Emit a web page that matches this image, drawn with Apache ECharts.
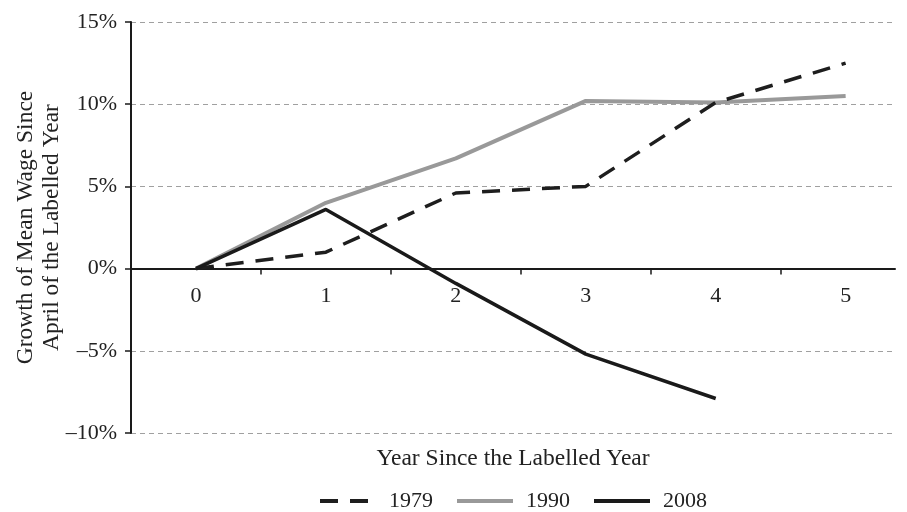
<!DOCTYPE html>
<html>
<head>
<meta charset="utf-8">
<script src="https://cdn.jsdelivr.net/npm/echarts@6/dist/echarts.min.js"></script>
<style>
  html, body { margin: 0; padding: 0; background: #fff; }
  #chart { width: 907px; height: 512px; }
</style>
</head>
<body>
<div id="chart"></div>
<script>
// years since the labelled year
var yearsSince = [0, 1, 2, 3, 4, 5];
// tick marks sit between the years
var tickMarks = [0.5, 1.5, 2.5, 3.5, 4.5];
var seriesNames = ['1979', '1990', '2008'];
// growth of mean wage, %
var wage1979 = [0, 1.0, 4.6, 5.0, 10.1, 12.5];
var wage1990 = [0, 4.0, 6.7, 10.2, 10.1, 10.5];
var wage2008 = [0, 3.6, -0.9, -5.2, -7.9];
var yMin = -10, yMax = 15, yStep = 5;

var FONT = 'Liberation Serif';
var GRID = { left: 131, right: 12, top: 22, bottom: 79 };

function pairs(vals) {
    return vals.map(function (v, i) { return [yearsSince[i], v]; });
}

// the x axis sits on the 0% line; v6 keeps labels at the grid edge with onZero,
// so shift the whole axis up instead
var plotH = 512 - GRID.top - GRID.bottom;
var zeroShift = -(0 - yMin) / (yMax - yMin) * plotH;

var myChart = echarts.init(document.getElementById('chart'));

var option = {
    backgroundColor: '#fff',
    animation: false,
    grid: { left: GRID.left, right: GRID.right, top: GRID.top, bottom: GRID.bottom, containLabel: false, outerBoundsMode: 'none' },
    legend: {
        data: seriesNames,
        top: 490,
        left: 318,
        padding: 0,
        itemWidth: 56,
        itemHeight: 14,
        itemGap: 22,
        textStyle: { fontFamily: FONT, fontSize: 22, color: '#222', padding: [0, 0, 0, 8] },
        itemStyle: { opacity: 0 },
        lineStyle: { width: 4 }
    },
    xAxis: {
        type: 'value',
        min: -0.5,
        max: 5.38,
        offset: zeroShift,
        name: 'Year Since the Labelled Year',
        nameLocation: 'middle',
        nameGap: 178,
        nameMoveOverlap: false,
        nameTextStyle: { fontFamily: FONT, fontSize: 23.5, color: '#222' },
        axisLine: { onZero: false, lineStyle: { color: '#1a1a1a', width: 2 } },
        axisTick: { show: true, length: 6, customValues: tickMarks, lineStyle: { color: '#1a1a1a', width: 1.5 } },
        axisLabel: { customValues: yearsSince, margin: 17, fontFamily: FONT, fontSize: 22, color: '#222' },
        splitLine: { show: false }
    },
    yAxis: {
        type: 'value',
        min: yMin,
        max: yMax,
        interval: yStep,
        name: 'Growth of Mean Wage Since\nApril of the Labelled Year',
        nameLocation: 'middle',
        nameRotate: 90,
        nameGap: 66,
        nameMoveOverlap: false,
        nameTextStyle: { fontFamily: FONT, fontSize: 23.5, color: '#222', lineHeight: 26 },
        axisLine: { show: true, onZero: false, lineStyle: { color: '#1a1a1a', width: 2 } },
        axisTick: { show: true, length: 6, lineStyle: { color: '#1a1a1a', width: 1.5 } },
        axisLabel: {
            margin: 14,
            fontFamily: FONT,
            fontSize: 22,
            color: '#222',
            formatter: function (v) {
                return v < 0 ? '\u2013' + Math.abs(v) + '%' : v + '%';
            }
        },
        splitLine: { show: true, lineStyle: { color: '#a0a0a0', width: 1, type: [5, 4] } }
    },
    series: [
        {
            name: '1979',
            type: 'line',
            data: pairs(wage1979),
            symbol: 'none',
            z: 3,
            color: '#1e1e1e',
            lineStyle: { color: '#1e1e1e', width: 3.5, type: [18, 12] }
        },
        {
            name: '1990',
            type: 'line',
            data: pairs(wage1990),
            symbol: 'none',
            z: 2,
            color: '#999999',
            lineStyle: { color: '#999999', width: 4 }
        },
        {
            name: '2008',
            type: 'line',
            data: pairs(wage2008),
            symbol: 'none',
            z: 4,
            color: '#1a1a1a',
            lineStyle: { color: '#1a1a1a', width: 3.5 }
        }
    ]
};

myChart.setOption(option);
window.addEventListener('resize', function () {
    myChart.resize();
});
</script>
</body>
</html>
